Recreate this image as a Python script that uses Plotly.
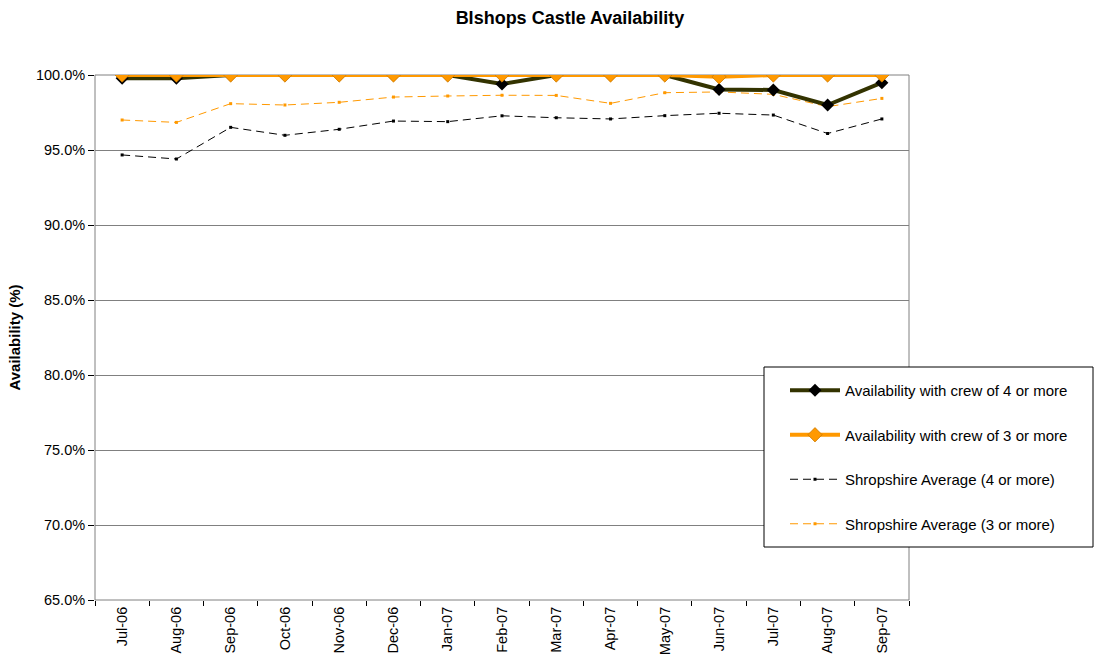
import plotly.graph_objects as go

months = ["Jul-06", "Aug-06", "Sep-06", "Oct-06", "Nov-06", "Dec-06", "Jan-07",
          "Feb-07", "Mar-07", "Apr-07", "May-07", "Jun-07", "Jul-07", "Aug-07", "Sep-07"]

crew4 = [99.78, 99.78, 100.0, 100.0, 100.0, 100.0, 100.0,
         99.4, 100.0, 100.0, 100.0, 99.04, 99.0, 98.0, 99.49]
crew3 = [100.0, 100.0, 100.0, 100.0, 100.0, 100.0, 100.0,
         100.0, 100.0, 100.0, 100.0, 99.88, 100.0, 100.0, 100.0]
shrop4 = [94.67, 94.4, 96.51, 95.98, 96.38, 96.93, 96.89,
          97.28, 97.15, 97.07, 97.29, 97.45, 97.33, 96.1, 97.07]
shrop3 = [97.0, 96.84, 98.09, 98.0, 98.18, 98.53, 98.6,
          98.65, 98.64, 98.11, 98.82, 98.87, 98.71, 97.89, 98.44]

FONT = "Liberation Sans, Arial, sans-serif"

fig = go.Figure()

# Station availability: heavy lines with diamond markers
fig.add_trace(go.Scatter(
    x=months, y=crew4, name="Availability with crew of 4 or more", mode="lines+markers",
    line=dict(color="#333300", width=4),
    marker=dict(symbol="diamond", size=10, color="#000000"),
    legendgroup="a", zorder=1, cliponaxis=False))
fig.add_trace(go.Scatter(
    x=months, y=crew3, name="Availability with crew of 3 or more", mode="lines+markers",
    line=dict(color="#FF9900", width=4),
    marker=dict(symbol="diamond", size=11, color="#FF9900",
                line=dict(color="#CC7A00", width=0.8)),
    legendgroup="b", zorder=2, cliponaxis=False))

# Shropshire averages: thin dashed lines with tiny markers
fig.add_trace(go.Scatter(
    x=months, y=shrop4, name="Shropshire Average (4 or more)", mode="lines+markers",
    line=dict(color="#000000", width=1, dash="8px,5px"),
    marker=dict(symbol="square", size=3, color="#000000"),
    legendgroup="c", zorder=0, cliponaxis=False))
fig.add_trace(go.Scatter(
    x=months, y=shrop3, name="Shropshire Average (3 or more)", mode="lines+markers",
    line=dict(color="#FF9900", width=1, dash="8px,5px"),
    marker=dict(symbol="square", size=3, color="#FF9900"),
    legendgroup="d", zorder=0, cliponaxis=False))

W, H = 1095, 662
L, R, T, B = 95, 909, 75, 600

def px_x(v):
    return (v - L) / (R - L)

def px_y(v):
    return (B - v) / (B - T)

fig.update_layout(
    width=W, height=H,
    margin=dict(l=L, r=W - R, t=T, b=H - B, autoexpand=False),
    paper_bgcolor="white", plot_bgcolor="white",
    font=dict(family=FONT, size=14.5, color="#000000"),
    title=dict(text="<b>BIshops Castle Availability</b>", x=570 / W, xanchor="center",
               y=1 - 18 / H, yanchor="middle", font=dict(size=18, family=FONT)),
    showlegend=True,
    legend=dict(x=px_x(785), y=px_y(374), xanchor="left", yanchor="top",
                bgcolor="rgba(0,0,0,0)", borderwidth=0,
                font=dict(size=15, family=FONT), tracegroupgap=22,
                itemwidth=50, traceorder="grouped"),
    xaxis=dict(type="category", range=[-0.5, 14.5], showgrid=False, automargin=False,
               showline=True, linecolor="#000000", linewidth=1,
               ticks="outside", ticklen=5, tickcolor="#000000", tickson="boundaries",
               tickangle=-90, tickfont=dict(size=14.5), zeroline=False),
    yaxis=dict(range=[65, 100], dtick=5, tick0=65, ticksuffix="%", tickformat=".1f",
               showgrid=True, gridcolor="#808080", gridwidth=1, automargin=False,
               showline=True, linecolor="#000000", linewidth=1,
               ticks="outside", ticklen=6, tickcolor="#000000",
               tickfont=dict(size=14.5), zeroline=False,
               title=dict(text="<b>Availability (%)</b>", font=dict(size=15), standoff=11)),
    shapes=[
        # plot area frame (right edge visible in grey)
        dict(type="rect", xref="paper", yref="paper", x0=0, x1=1, y0=0, y1=1,
             line=dict(color="#808080", width=1), layer="below"),
        # legend box
        dict(type="rect", xref="paper", yref="paper",
             x0=px_x(764), x1=px_x(1093), y0=px_y(547), y1=px_y(367),
             line=dict(color="#000000", width=1), fillcolor="white", layer="above"),
    ],
)

fig.write_html("out.html")
